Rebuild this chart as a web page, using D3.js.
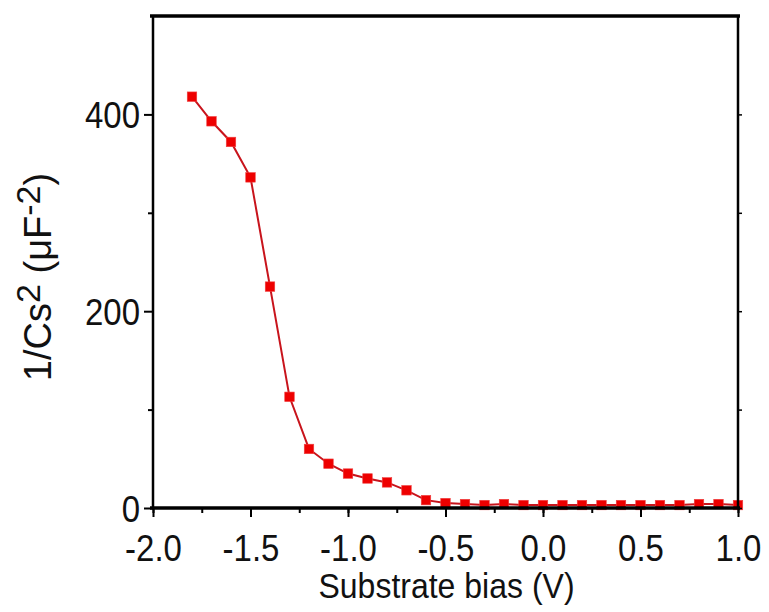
<!DOCTYPE html>
<html>
<head>
<meta charset="utf-8">
<script src="https://cdn.jsdelivr.net/npm/d3@7/dist/d3.min.js"></script>
<style>
  html, body { margin: 0; padding: 0; background: #fff; }
  svg { display: block; font-family: "Liberation Sans", Arial, sans-serif; }
</style>
</head>
<body>
<svg id="chart" width="769" height="612"></svg>
<script>
// bias (V) and 1/Cs^2 (uF^-2)
const bias = [-1.8, -1.7, -1.6, -1.5, -1.4, -1.3, -1.2, -1.1, -1.0, -0.9, -0.8, -0.7, -0.6, -0.5,
  -0.4, -0.3, -0.2, -0.1, 0.0, 0.1, 0.2, 0.3, 0.4, 0.5, 0.6, 0.7, 0.8, 0.9, 1.0];
const invCs2 = [418, 393, 372, 336, 225, 113, 60, 45, 35, 30, 26, 18, 8, 5,
  4, 3, 4, 3, 3, 3, 3, 3, 3, 3, 3, 3, 4, 4, 3];
const xTicks = [-2.0, -1.5, -1.0, -0.5, 0.0, 0.5, 1.0];
const yTicks = [0, 200, 400];

const W = 769, H = 612;
const m = { left: 153, right: W - 738, top: 16, bottom: H - 508 };
const tall = "scale(1,1.12)"; // the figure's lettering is a little condensed

const svg = d3.select("#chart");
const x = d3.scaleLinear().domain([-2, 1]).range([m.left, W - m.right]);
const y = d3.scaleLinear().domain([0, 500]).range([H - m.bottom, m.top]);

/* ── line + markers ── */
const pts = bias.map((b, i) => [b, invCs2[i]]);
svg.append("path")
  .datum(pts)
  .attr("fill", "none")
  .attr("stroke", "#c8141c")
  .attr("stroke-width", 2)
  .attr("d", d3.line().x((d) => x(d[0])).y((d) => y(d[1])));

const ms = 9.5;
svg.append("g").selectAll("rect").data(pts).join("rect")
  .attr("x", (d) => x(d[0]) - ms / 2)
  .attr("y", (d) => y(d[1]) - ms / 2)
  .attr("width", ms).attr("height", ms)
  .attr("fill", "#ee0000")
  .attr("stroke", "#f04040")
  .attr("stroke-width", 0.6);

/* ── axes ── */
const bottom = svg.append("g").attr("transform", `translate(0,${H - m.bottom})`);
bottom.call(d3.axisBottom(x).tickValues(d3.range(-2, 1.01, 0.25)).tickSize(5).tickFormat(""));
bottom.call((g) => g.select(".domain").remove());
bottom.selectAll(".tick line").attr("stroke-width", 2);
bottom.append("g")
  .call(d3.axisBottom(x).tickValues(xTicks).tickSize(9).tickFormat(d3.format(".1f")))
  .call((g) => g.select(".domain").remove())
  .call((g) => g.selectAll(".tick line").attr("stroke-width", 2))
  .call((g) => g.selectAll("text")
    .attr("y", 0).attr("dy", 0).attr("transform", "translate(0,53) " + tall)
    .attr("font-size", 33).attr("fill", "#111").attr("font-family", null)
    .text((d) => d3.format(".1f")(d).replace("−", "-")));

const left = svg.append("g").attr("transform", `translate(${m.left},0)`);
left.call(d3.axisLeft(y).tickValues([100, 300]).tickSize(5).tickFormat(""));
left.call((g) => g.select(".domain").remove());
left.selectAll(".tick line").attr("stroke-width", 2);
left.append("g")
  .call(d3.axisLeft(y).tickValues(yTicks).tickSize(9))
  .call((g) => g.select(".domain").remove())
  .call((g) => g.selectAll(".tick line").attr("stroke-width", 2))
  .call((g) => g.selectAll("text")
    .attr("x", 0).attr("y", 0).attr("dy", 0)
    .attr("transform", "translate(-13,13) " + tall)
    .attr("font-size", 33).attr("fill", "#111").attr("font-family", null));

const right = svg.append("g").attr("transform", `translate(${W - m.right},0)`);
right.call(d3.axisRight(y).tickValues(d3.range(0, 401, 100)).tickSize(4).tickFormat(""));
right.call((g) => g.select(".domain").remove());
right.selectAll(".tick line").attr("stroke-width", 1.5);

// frame
const [x0, x1] = x.range(), [y0, y1] = y.range();
svg.append("line").attr("x1", x0).attr("x2", x0).attr("y1", y1 - 1).attr("y2", y0 + 1)
  .attr("stroke", "#000").attr("stroke-width", 2.5);
svg.append("line").attr("x1", x1).attr("x2", x1).attr("y1", y1 - 1).attr("y2", y0 + 1)
  .attr("stroke", "#000").attr("stroke-width", 2.5);
svg.append("line").attr("x1", x0 - 3).attr("x2", x1 + 2).attr("y1", y1).attr("y2", y1)
  .attr("stroke", "#000").attr("stroke-width", 3.5);
svg.append("line").attr("x1", x0 - 3).attr("x2", x1 + 2).attr("y1", y0).attr("y2", y0)
  .attr("stroke", "#000").attr("stroke-width", 3.5);

/* ── titles ── */
svg.append("text")
  .attr("transform", `translate(${(x0 + x1) / 2 + 1},598) ${tall}`)
  .attr("text-anchor", "middle").attr("font-size", 32).attr("fill", "#111")
  .text("Substrate bias (V)");

const yt = svg.append("text")
  .attr("transform", `translate(51,277) rotate(-90)`)
  .attr("text-anchor", "middle").attr("font-size", 38).attr("fill", "#111");
yt.append("tspan").text("1/Cs");
yt.append("tspan").attr("font-size", 34).attr("dy", -11).text("2");
yt.append("tspan").attr("dy", 11).text(" (μF");
yt.append("tspan").attr("font-size", 34).attr("dy", -11).text("-2");
yt.append("tspan").attr("dy", 11).text(")");
</script>
</body>
</html>
